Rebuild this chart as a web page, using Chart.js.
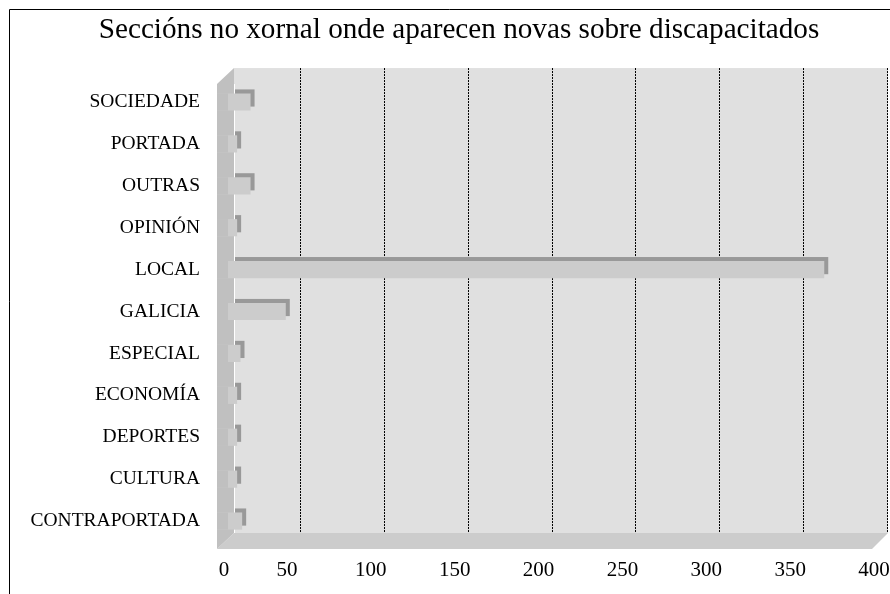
<!DOCTYPE html>
<html>
<head>
<meta charset="utf-8">
<script src="https://cdn.jsdelivr.net/npm/chart.js@4"></script>
<style>
  html, body { margin: 0; padding: 0; background: #fff; }
  #wrap { width: 890px; height: 594px; }
</style>
</head>
<body>
<div id="wrap"><canvas id="myChart" width="890" height="594"></canvas></div>
<script>
// datos do gráfico
const seccions = ['SOCIEDADE', 'PORTADA', 'OUTRAS', 'OPINIÓN', 'LOCAL', 'GALICIA',
  'ESPECIAL', 'ECONOMÍA', 'DEPORTES', 'CULTURA', 'CONTRAPORTADA'];
const novas = [20, 12, 20, 12, 362, 41, 14, 12, 12, 12, 15];
const xMax = 400;
const xPaso = 50;
const titulo = 'Seccións no xornal onde aparecen novas sobre discapacitados';

const serif = "'Liberation Serif', 'Times New Roman', serif";

// paredes e chan en pseudo-3D, debuxados a partir da área do gráfico
const fondo3d = {
  id: 'fondo3d',
  beforeDatasetsDraw(chart) {
    const { ctx, chartArea: ca, scales } = chart;
    const bx = ca.left + 17, top = ca.top - 13, fy = ca.bottom - 9, fry = ca.bottom + 7;
    ctx.save();
    // parede do fondo
    ctx.fillStyle = '#e0e0e0';
    ctx.fillRect(bx, top, ca.right - bx, fy - top);
    // liñas de división (discontinuas)
    ctx.strokeStyle = '#000';
    ctx.lineWidth = 1;
    ctx.setLineDash([2, 1]);
    for (let v = xPaso; v <= xMax; v += xPaso) {
      const px = Math.round(scales.x.getPixelForValue(v)) - 0.5;
      ctx.beginPath();
      ctx.moveTo(px, top);
      ctx.lineTo(px, fy);
      ctx.stroke();
    }
    ctx.setLineDash([]);
    // chan
    ctx.fillStyle = '#cccccc';
    ctx.beginPath();
    ctx.moveTo(bx, fy);
    ctx.lineTo(ca.right, fy);
    ctx.lineTo(ca.right - 16, fry);
    ctx.lineTo(ca.left, fry);
    ctx.closePath();
    ctx.fill();
    // lado escuro das barras
    const meta = chart.getDatasetMeta(0);
    ctx.fillStyle = '#999999';
    meta.data.forEach(b => {
      const h = b.height;
      ctx.fillRect(b.base + 4, b.y - h / 2 - 4, b.x - b.base, h);
    });
    // parede esquerda
    ctx.fillStyle = '#c0c0c0';
    ctx.beginPath();
    ctx.moveTo(bx, top);
    ctx.lineTo(bx, fy);
    ctx.lineTo(ca.left, fry);
    ctx.lineTo(ca.left, top + 16);
    ctx.closePath();
    ctx.fill();
    ctx.strokeStyle = '#ffffff';
    ctx.beginPath();
    ctx.moveTo(bx + 0.5, top + 16);
    ctx.lineTo(bx + 0.5, fy);
    ctx.stroke();
    ctx.restore();
  },
  afterDatasetsDraw(chart) {
    const { ctx, chartArea: ca } = chart;
    const meta = chart.getDatasetMeta(0);
    ctx.save();
    // a cara frontal comeza sobre a parede esquerda
    ctx.fillStyle = '#c0c0c0';
    meta.data.forEach(b => {
      ctx.fillRect(ca.left, b.y - b.height / 2, 11, b.height);
    });
    // marco exterior
    ctx.strokeStyle = '#000';
    ctx.lineWidth = 1;
    ctx.beginPath();
    ctx.moveTo(9.5, chart.height);
    ctx.lineTo(9.5, 9.5);
    ctx.lineTo(chart.width, 9.5);
    ctx.stroke();
    ctx.restore();
  }
};

const ctx = document.getElementById('myChart').getContext('2d');
const myChart = new Chart(ctx, {
  type: 'bar',
  data: {
    labels: seccions,
    datasets: [{
      data: novas,
      backgroundColor: '#cccccc',
      borderWidth: 0,
      barPercentage: 0.41,
      categoryPercentage: 1
    }]
  },
  options: {
    indexAxis: 'y',
    responsive: false,
    animation: false,
    layout: { autoPadding: false, padding: { left: 30, right: 2, top: 0, bottom: 0 } },
    plugins: {
      legend: { display: false },
      tooltip: { enabled: false },
      title: {
        display: true,
        text: titulo,
        color: '#000',
        font: { family: serif, size: 29.2, weight: 'normal' },
        padding: { top: 13, bottom: 33 }
      }
    },
    scales: {
      x: {
        min: 0,
        max: xMax,
        ticks: {
          stepSize: xPaso,
          autoSkip: false,
          color: '#000',
          font: { family: serif, size: 21 },
          padding: 16,
          labelOffset: -14,
          maxRotation: 0,
          // o "0" queda desprazado á dereita como no orixinal
          callback: v => (v === 0 ? '\u2003\u20030' : String(v))
        },
        grid: { display: false, drawTicks: false },
        border: { display: false },
        afterFit: s => { s.height = 52; s.paddingLeft = 0; s.paddingRight = 0; }
      },
      y: {
        ticks: {
          color: '#000',
          font: { family: serif, size: 19.5 },
          padding: 17
        },
        grid: { display: false, drawTicks: false },
        border: { display: false },
        afterFit: s => { s.width = 187; s.paddingTop = 0; s.paddingBottom = 0; }
      }
    }
  },
  plugins: [fondo3d]
});
</script>
</body>
</html>
